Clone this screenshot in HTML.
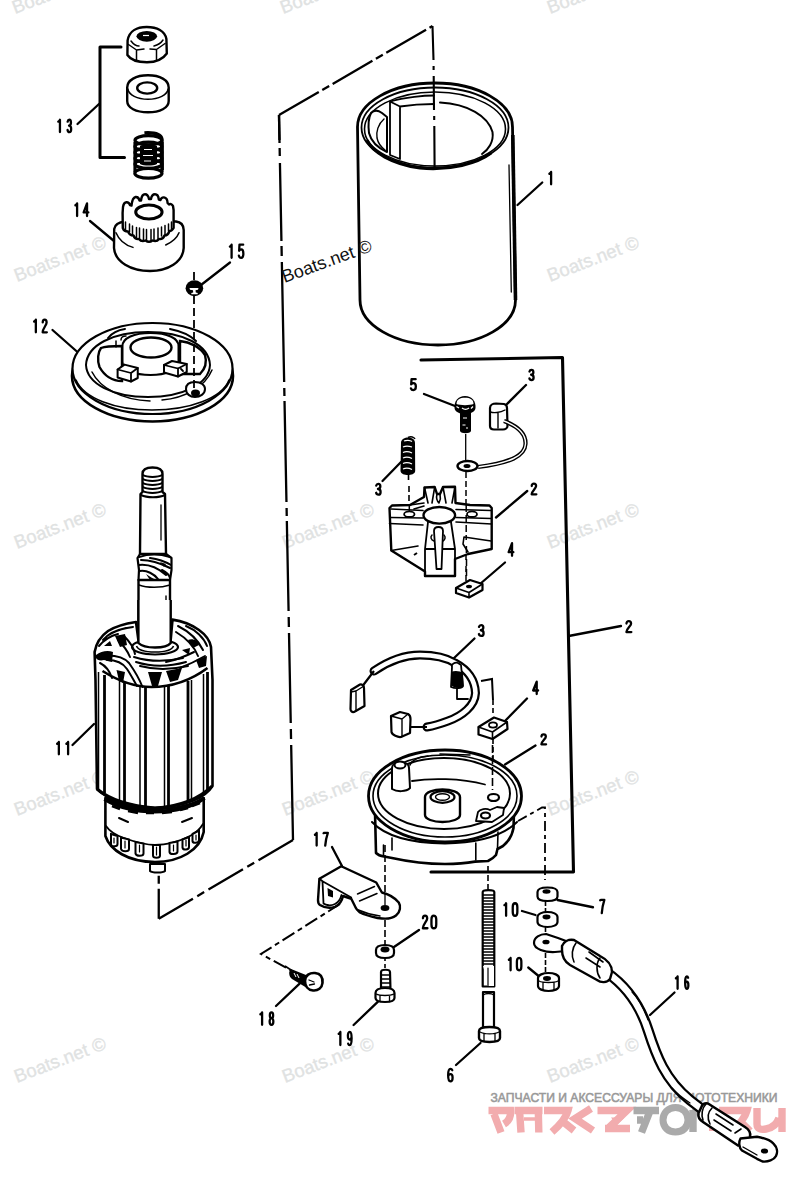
<!DOCTYPE html>
<html><head><meta charset="utf-8"><style>
html,body{margin:0;padding:0;background:#fff;width:800px;height:1184px;overflow:hidden}
svg{display:block}
.wm{font-family:"Liberation Sans",sans-serif;font-size:18.5px;fill:#e0e2e2;stroke:#e0e2e2;stroke-width:0.3}
.lb{font-family:"Liberation Sans",sans-serif;font-size:19.5px;font-weight:bold;fill:#000}
.s{fill:none;stroke:#000;stroke-width:2.4;stroke-linecap:round;stroke-linejoin:round}
.t{fill:none;stroke:#000;stroke-width:1.5;stroke-linecap:round;stroke-linejoin:round}
.d{fill:none;stroke:#000;stroke-width:2.3;stroke-dasharray:24 5 8 5}
.w{fill:#fff;stroke:#000;stroke-width:2.4;stroke-linejoin:round}
.k{fill:#000}
</style></head><body>
<svg width="800" height="1184" viewBox="0 0 800 1184">
<!-- watermarks -->
<g class="wm">
<text transform="translate(15,14) rotate(-21)">Boats.net ©</text>
<text transform="translate(283,14) rotate(-21)">Boats.net ©</text>
<text transform="translate(550,14) rotate(-21)">Boats.net ©</text>
<text transform="translate(17,282) rotate(-21)">Boats.net ©</text>
<text transform="translate(550,282) rotate(-21)">Boats.net ©</text>
<text transform="translate(17,549) rotate(-21)">Boats.net ©</text>
<text transform="translate(285,549) rotate(-21)">Boats.net ©</text>
<text transform="translate(550,549) rotate(-21)">Boats.net ©</text>
<text transform="translate(17,816) rotate(-21)">Boats.net ©</text>
<text transform="translate(285,816) rotate(-21)">Boats.net ©</text>
<text transform="translate(550,816) rotate(-21)">Boats.net ©</text>
<text transform="translate(17,1083) rotate(-21)">Boats.net ©</text>
<text transform="translate(285,1083) rotate(-21)">Boats.net ©</text>
<text transform="translate(550,1083) rotate(-21)">Boats.net ©</text>
</g>
<!-- labels -->
<g fill="none" stroke="#000" stroke-width="2.30" stroke-linecap="round" stroke-linejoin="round">
<path vector-effect="non-scaling-stroke" transform="matrix(1.000 0 0 1.012 57.35 118.84)" d="M0.9 2.7 L2.3 1.7 L2.6 0.9 V13.1"/>
<path vector-effect="non-scaling-stroke" transform="matrix(0.667 0 0 1.012 67.02 118.84)" d="M0.9 2.8 C1.3 1.4 2.2 0.9 3.4 0.9 C5 0.9 5.9 2 5.9 3.7 C5.9 5.6 4.9 6.6 3 6.7 C5.1 6.8 6.2 8.1 6.2 10 C6.2 12.1 5.1 13.1 3.5 13.1 C2.1 13.1 1.1 12.4 0.8 11"/>
<path vector-effect="non-scaling-stroke" transform="matrix(1.000 0 0 1.041 74.50 202.46)" d="M0.9 2.7 L2.3 1.7 L2.6 0.9 V13.1"/>
<path vector-effect="non-scaling-stroke" transform="matrix(0.825 0 0 1.041 82.99 202.46)" d="M4.9 13.1 V0.9 L0.8 9.6 H6.5"/>
<path vector-effect="non-scaling-stroke" transform="matrix(1.000 0 0 1.082 229.00 243.68)" d="M0.9 2.7 L2.3 1.7 L2.6 0.9 V13.1"/>
<path vector-effect="non-scaling-stroke" transform="matrix(0.840 0 0 1.082 238.23 243.68)" d="M5.9 0.9 H1.5 L1.1 6.6 C1.7 5.7 2.6 5.3 3.5 5.3 C5.2 5.3 6.1 6.8 6.1 9.2 C6.1 11.8 5 13.1 3.4 13.1 C2.1 13.1 1.2 12.4 0.8 11.1"/>
<path vector-effect="non-scaling-stroke" transform="matrix(1.000 0 0 1.041 33.25 318.71)" d="M0.9 2.7 L2.3 1.7 L2.6 0.9 V13.1"/>
<path vector-effect="non-scaling-stroke" transform="matrix(0.778 0 0 1.041 41.95 318.71)" d="M1 3.6 C1 1.8 2 0.9 3.5 0.9 C5.1 0.9 6 2 6 3.7 C6 6.3 1 9.2 0.9 13.1 H6.3"/>
<path vector-effect="non-scaling-stroke" transform="matrix(1.000 0 0 1.020 56.25 740.98)" d="M0.9 2.7 L2.3 1.7 L2.6 0.9 V13.1"/>
<path vector-effect="non-scaling-stroke" transform="matrix(1.000 0 0 1.020 65.50 740.98)" d="M0.9 2.7 L2.3 1.7 L2.6 0.9 V13.1"/>
<path vector-effect="non-scaling-stroke" transform="matrix(1.000 0 0 1.020 548.50 170.98)" d="M0.9 2.7 L2.3 1.7 L2.6 0.9 V13.1"/>
<path vector-effect="non-scaling-stroke" transform="matrix(0.934 0 0 0.898 410.15 378.34)" d="M5.9 0.9 H1.5 L1.1 6.6 C1.7 5.7 2.6 5.3 3.5 5.3 C5.2 5.3 6.1 6.8 6.1 9.2 C6.1 11.8 5 13.1 3.4 13.1 C2.1 13.1 1.2 12.4 0.8 11.1"/>
<path vector-effect="non-scaling-stroke" transform="matrix(0.778 0 0 0.836 528.78 369.15)" d="M0.9 2.8 C1.3 1.4 2.2 0.9 3.4 0.9 C5 0.9 5.9 2 5.9 3.7 C5.9 5.6 4.9 6.6 3 6.7 C5.1 6.8 6.2 8.1 6.2 10 C6.2 12.1 5.1 13.1 3.5 13.1 C2.1 13.1 1.1 12.4 0.8 11"/>
<path vector-effect="non-scaling-stroke" transform="matrix(0.824 0 0 0.877 375.49 483.11)" d="M0.9 2.8 C1.3 1.4 2.2 0.9 3.4 0.9 C5 0.9 5.9 2 5.9 3.7 C5.9 5.6 4.9 6.6 3 6.7 C5.1 6.8 6.2 8.1 6.2 10 C6.2 12.1 5.1 13.1 3.5 13.1 C2.1 13.1 1.1 12.4 0.8 11"/>
<path vector-effect="non-scaling-stroke" transform="matrix(0.870 0 0 0.877 530.87 482.86)" d="M1 3.6 C1 1.8 2 0.9 3.5 0.9 C5.1 0.9 6 2 6 3.7 C6 6.3 1 9.2 0.9 13.1 H6.3"/>
<path vector-effect="non-scaling-stroke" transform="matrix(0.825 0 0 1.041 507.99 542.21)" d="M4.9 13.1 V0.9 L0.8 9.6 H6.5"/>
<path vector-effect="non-scaling-stroke" transform="matrix(0.917 0 0 0.898 625.57 620.34)" d="M1 3.6 C1 1.8 2 0.9 3.5 0.9 C5.1 0.9 6 2 6 3.7 C6 6.3 1 9.2 0.9 13.1 H6.3"/>
<path vector-effect="non-scaling-stroke" transform="matrix(0.870 0 0 0.877 478.20 624.36)" d="M0.9 2.8 C1.3 1.4 2.2 0.9 3.4 0.9 C5 0.9 5.9 2 5.9 3.7 C5.9 5.6 4.9 6.6 3 6.7 C5.1 6.8 6.2 8.1 6.2 10 C6.2 12.1 5.1 13.1 3.5 13.1 C2.1 13.1 1.1 12.4 0.8 11"/>
<path vector-effect="non-scaling-stroke" transform="matrix(0.868 0 0 1.020 532.46 680.73)" d="M4.9 13.1 V0.9 L0.8 9.6 H6.5"/>
<path vector-effect="non-scaling-stroke" transform="matrix(0.870 0 0 0.816 540.62 733.67)" d="M1 3.6 C1 1.8 2 0.9 3.5 0.9 C5.1 0.9 6 2 6 3.7 C6 6.3 1 9.2 0.9 13.1 H6.3"/>
<path vector-effect="non-scaling-stroke" transform="matrix(1.000 0 0 1.041 314.05 831.91)" d="M0.9 2.7 L2.3 1.7 L2.6 0.9 V13.1"/>
<path vector-effect="non-scaling-stroke" transform="matrix(0.796 0 0 1.041 322.91 831.91)" d="M0.8 1.2 L1.6 0.9 H6.2 C4.6 4.5 3.4 8.6 2.9 13.1"/>
<path vector-effect="non-scaling-stroke" transform="matrix(0.852 0 0 1.041 422.08 914.61)" d="M1 3.6 C1 1.8 2 0.9 3.5 0.9 C5.1 0.9 6 2 6 3.7 C6 6.3 1 9.2 0.9 13.1 H6.3"/>
<path vector-effect="non-scaling-stroke" transform="matrix(0.923 0 0 1.041 430.62 914.61)" d="M3.5 0.9 C1.5 0.9 0.9 2.6 0.9 4.6 V9.4 C0.9 11.4 1.5 13.1 3.5 13.1 C5.5 13.1 6.1 11.4 6.1 9.4 V4.6 C6.1 2.6 5.5 0.9 3.5 0.9 Z"/>
<path vector-effect="non-scaling-stroke" transform="matrix(0.778 0 0 1.082 599.53 898.93)" d="M0.8 1.2 L1.6 0.9 H6.2 C4.6 4.5 3.4 8.6 2.9 13.1"/>
<path vector-effect="non-scaling-stroke" transform="matrix(1.000 0 0 1.033 503.50 902.32)" d="M0.9 2.7 L2.3 1.7 L2.6 0.9 V13.1"/>
<path vector-effect="non-scaling-stroke" transform="matrix(0.885 0 0 1.033 511.95 902.32)" d="M3.5 0.9 C1.5 0.9 0.9 2.6 0.9 4.6 V9.4 C0.9 11.4 1.5 13.1 3.5 13.1 C5.5 13.1 6.1 11.4 6.1 9.4 V4.6 C6.1 2.6 5.5 0.9 3.5 0.9 Z"/>
<path vector-effect="non-scaling-stroke" transform="matrix(1.000 0 0 1.020 508.00 956.98)" d="M0.9 2.7 L2.3 1.7 L2.6 0.9 V13.1"/>
<path vector-effect="non-scaling-stroke" transform="matrix(0.856 0 0 1.020 516.13 956.98)" d="M3.5 0.9 C1.5 0.9 0.9 2.6 0.9 4.6 V9.4 C0.9 11.4 1.5 13.1 3.5 13.1 C5.5 13.1 6.1 11.4 6.1 9.4 V4.6 C6.1 2.6 5.5 0.9 3.5 0.9 Z"/>
<path vector-effect="non-scaling-stroke" transform="matrix(1.000 0 0 1.020 259.50 1011.48)" d="M0.9 2.7 L2.3 1.7 L2.6 0.9 V13.1"/>
<path vector-effect="non-scaling-stroke" transform="matrix(0.685 0 0 1.020 269.10 1011.48)" d="M3.5 6.6 C1.9 6.6 1.1 5.5 1.1 3.8 C1.1 2 2 0.9 3.5 0.9 C5 0.9 5.9 2 5.9 3.8 C5.9 5.5 5.1 6.6 3.5 6.6 C1.7 6.6 0.8 8 0.8 9.9 C0.8 12 1.8 13.1 3.5 13.1 C5.2 13.1 6.2 12 6.2 9.9 C6.2 8 5.3 6.6 3.5 6.6 Z"/>
<path vector-effect="non-scaling-stroke" transform="matrix(1.000 0 0 1.082 337.75 1030.93)" d="M0.9 2.7 L2.3 1.7 L2.6 0.9 V13.1"/>
<path vector-effect="non-scaling-stroke" transform="matrix(0.698 0 0 1.082 347.34 1030.93)" d="M1.2 11.8 C1.6 12.7 2.4 13.1 3.4 13.1 C5.2 13.1 6.1 10.9 6.1 6.8 C6.1 2.8 5.1 0.9 3.4 0.9 C1.8 0.9 0.8 2.3 0.8 4.5 C0.8 6.6 1.8 7.9 3.3 7.9 C4.6 7.9 5.6 7.1 6 5.9"/>
<path vector-effect="non-scaling-stroke" transform="matrix(0.840 0 0 1.020 447.39 1067.98)" d="M5.8 2.2 C5.4 1.3 4.6 0.9 3.6 0.9 C1.8 0.9 0.9 3.1 0.9 7.2 C0.9 11.2 1.9 13.1 3.6 13.1 C5.2 13.1 6.2 11.7 6.2 9.5 C6.2 7.4 5.2 6.1 3.7 6.1 C2.4 6.1 1.4 6.9 1 8.1"/>
<path vector-effect="non-scaling-stroke" transform="matrix(1.000 0 0 1.020 675.00 975.48)" d="M0.9 2.7 L2.3 1.7 L2.6 0.9 V13.1"/>
<path vector-effect="non-scaling-stroke" transform="matrix(0.604 0 0 1.020 684.61 975.48)" d="M5.8 2.2 C5.4 1.3 4.6 0.9 3.6 0.9 C1.8 0.9 0.9 3.1 0.9 7.2 C0.9 11.2 1.9 13.1 3.6 13.1 C5.2 13.1 6.2 11.7 6.2 9.5 C6.2 7.4 5.2 6.1 3.7 6.1 C2.4 6.1 1.4 6.9 1 8.1"/>
</g>
<!-- leader lines -->
<g class="s" style="stroke-width:2.3">
<path d="M77.5 124 L99 104"/>
<path d="M90 221 L114 241"/>
<path d="M230 262.5 L201 285"/>
<path d="M52.5 330 L78 352.5"/>
<path d="M72.5 745 L94 724"/>
<path d="M542.25 182.5 L517.5 205"/>
<path d="M424 394 L455 406"/>
<path d="M526 385 L505 406"/>
<path d="M382.5 481 L401 462"/>
<path d="M527.25 491 L496 517.5"/>
<path d="M505 562.5 L480 584"/>
<path d="M570 635.75 L621 626"/>
<path d="M474.5 638.5 L452.5 659.5"/>
<path d="M527 698.5 L503.5 722.5"/>
<path d="M535.5 745.5 L505 764.5"/>
<path d="M332 847 L342 866"/>
<path d="M419 930 L391 949"/>
<path d="M593 907.25 L557.5 900"/>
<path d="M522 911 L535.5 915"/>
<path d="M528.25 967.5 L538 975.5"/>
<path d="M276 1006 L299.6 983.6"/>
<path d="M353.6 1025 L378 1001.6"/>
<path d="M456 1065 L480.5 1043"/>
<path d="M674.5 992.5 L650 1015"/>
</g>
<!-- bracket 13 -->
<path class="s" d="M121 47 H100 V157.5 H124.5" style="stroke-width:3"/>
<!-- bracket 2 -->
<path class="s" d="M421 360 L562.5 357.5 L573.5 872 L431 872" style="stroke-width:3.1"/>
<!-- main phantom lines -->
<g fill="none" stroke="#000" stroke-width="2.3">

<path d="M279 115 L432.5 26" stroke-dasharray="46 4 8 4"/>
<path d="M279.00 115 L279.54 143 M279.64 148 L279.79 156 M279.93 163 L281.43 241 M281.53 246 L281.72 256 M281.84 262 L284.16 382 M284.27 388 L284.43 396 M284.52 401 L286.47 502 M286.59 508 L286.74 516 M286.84 521 L288.58 611 M288.69 617 L288.89 627 M289.00 633 L290.74 723 M290.86 729 L291.05 739 M291.17 745 L293.00 840"/>
<path d="M293 840 L158.75 918.75" stroke-dasharray="40 5 8 5"/>
<path d="M158.75 918.75 V872" stroke-dasharray="30 5 8 5"/>
<path d="M279 115 L279.5 140" />
</g>


<!-- PART 1: field frame cylinder -->
<g>
<path class="w" d="M357.5 127 C357.5 102.7 392 83 435 83 C478 83 512.5 102.7 512.5 127 L515.5 300 C515.5 325 481 345 438 345 C395 345 360 325 360 300 Z" style="stroke-width:2.8"/>
<ellipse cx="435" cy="127.5" rx="73.5" ry="40" fill="none" stroke="#000" stroke-width="1.8"/>
<ellipse cx="435" cy="129" rx="70.5" ry="37" fill="none" stroke="#000" stroke-width="1.6"/>
<path d="M367 140 C372 152 392 164 420 168 C450 171 478 163 491 153" fill="none" stroke="#000" stroke-width="3.2"/>
<path class="t" d="M440 102.5 C468 104 488 116 492.5 132 C494 142 488 150 482 154" style="stroke-width:2"/>
<path class="t" d="M390 101.5 L400 106.5 L400 159 L390 155 Z M390 101.5 C405 97 425 95.5 434 95.5 M400 106.5 C413 104.5 425 104 434 104" style="stroke-width:1.8"/>
<path class="t" d="M371 113 C374 110 378 110 382 113 L387 117 L387 152 C378 148 371 141 369 133 C368 125 369 117 371 113 Z" style="stroke-width:2"/>
<path class="t" d="M384 119 C378 124 376 132 377 138 C378 143 381 147 385 150" style="stroke-width:1.4"/>
<path class="t" d="M509 165 L511.3 292" style="stroke-width:1.3"/>
<path d="M512.8 135 L515.5 300" stroke="#000" stroke-width="3.6" fill="none"/>
</g>
<path d="M432.5 26 L433.5 60 M433.6 66 V70 M433.7 76 L434 110 M434.2 116 V120 M434.3 126 L434.6 169" fill="none" stroke="#000" stroke-width="2.1"/>
<!-- PART 11: armature -->
<g>
<!-- shaft -->
<path class="w" d="M142.5 474 C142.5 469 147 467.5 152.5 467.5 C158 467.5 162.5 469 162.5 474 L162.5 492 L165 494 L166 554 L140 554 L140.5 494 L142.5 492 Z" style="stroke-width:2.4"/>
<path class="t" d="M143 475 C147 477.5 158 477.5 162 475 M143 479 C147 481.5 158 481.5 162 479 M143 483 C147 485.5 158 485.5 162 483 M143 487 C147 489.5 158 489.5 162 487 M143 491 C147 493.5 158 493.5 162 491 M141 495 C147 498 159 498 165 495" style="stroke-width:2"/>
<path class="t" d="M161 505 V540" style="stroke-width:1.3"/>
<path class="w" d="M140 554 L137.5 558 L139 570 L138.5 580 L170 580 L171.5 570 L171.5 558 L166 554 Z" style="stroke-width:2.2"/>
<path class="t" d="M139 557 C148 554 160 554 170 557 M141 560 C150 560 160 563 170 568 M139 565 C148 564 158 568 166 575 M140 571 C147 570 154 574 158 579 M150 558 C158 559 166 562 171 565 M162 570 C166 572 169 574 170 578" style="stroke-width:2"/><path d="M146 574 C150 577 154 579 156 580 L150 580 Z M160 562 l6 2 l-2 3 Z" fill="#000"/>
<path class="w" d="M138.5 580 L138.5 646 L170 646 L170 580 Z" style="stroke-width:2.4"/>
<path class="t" d="M139 585 C147 588 161 588 170 585 M166 596 V640" style="stroke-width:1.4"/>
<!-- dome -->
<path class="w" d="M94.6 652 C96 644 101 636 108 631 C116 626 126 623.5 136 622 L138.4 640 L170.7 640 L172.5 619.6 C182 621 192 625 199 630 C206 635 210 641 211 647 L212.5 680 L212.5 786 C205 798 185 806 155 808 C125 806 105 798 97 789 L95.5 680 Z" style="stroke-width:2.6"/>
<ellipse cx="155" cy="647" rx="23" ry="7.5" fill="#fff" stroke="#000" stroke-width="2.2"/>
<path d="M136.5 646 C138 650 146 652 155 652 C164 652 172 650 173.5 646" fill="none" stroke="#000" stroke-width="1.6"/>
<path class="w" d="M138.4 600 L138.4 643 C142 646.5 150 647.5 155 647.5 C161 647.5 168 646.5 170.7 643 L170.7 600" style="stroke-width:2.4;stroke-linejoin:miter"/>
<path d="M102.5 671 C120 682 135 687 151.5 687 C170 687 190 681 207.5 668" fill="none" stroke="#000" stroke-width="2.6"/>
<g fill="none" stroke="#000" stroke-width="2" stroke-linecap="round">
<path d="M99 646 C104 640 110 636 118 634 M103 640 C108 634 116 630 126 628 M112 633 C118 630 126 628 133 627"/>
<path d="M104 655.5 C114 655 124 657 129 663 C134 670 139 678 142.5 687 M107 660 C116 660 123 663 127 669 C131 675 134 681 137 686"/>
<path d="M100 663 C106 666 110 672 112 678"/>
<path d="M134 657 C150 662 166 662 183 658 M136 662 C152 667 168 667 186 662 M140 666 C155 670 170 670 188 666"/>
<path d="M178 626 C190 632 198 640 203 650 M176 632 C186 638 194 646 198 656 M186 626 C196 630 204 638 207 646"/>
<path d="M166 662 C176 660 186 656 194 652 M180 668 C190 664 198 660 205 656"/>
<path d="M118 640 C124 646 128 652 130 657 M124 636 C130 642 134 648 135 654"/>
</g>
<path d="M96 655 C101 651 108 650 113 652 L112 662 L104 660 C100 661 97 660 96 658 Z
M115 636 L125 634 L127 645 L120 647 Z
M116.5 670 L125 672 L123 683 L119 681 Z
M148 672 L162 672 L158 686 L152 686 Z
M166 671 L182 668 L178 680 L170 682 Z
M188 640 C192 638 198 640 199 645 L193 648 Z
M196 660 L207 656 L206 666 L199 668 Z
M104 646 L110 641 L112 646 Z
M182 650 L190 648 L189 655 Z" fill="#000"/>
<!-- slots -->
<g fill="none" stroke="#000">
<path d="M98.5 672 V790 M119.5 680 V801 M140 686 V806 M164.5 686 V807 M191.5 680 V800 M203.5 674 V792" stroke-width="1.5"/>
<path d="M104.5 675 V793 M124.5 682 V802 M145.5 687 V807.5 M168.5 686 V807 M188 681 V801 M207.5 672 V790" stroke-width="2.8"/>
</g>
<path d="M97 789 C108 798 128 806 155 808 C182 806 200 798 212 786" fill="none" stroke="#000" stroke-width="3"/>
<!-- commutator -->
<path class="w" d="M105.4 798 C120 805 135 809 155 809 C175 809 192 805 203.7 798 L203.7 832 C200 850 180 862 155 862 C128 862 110 850 105.4 836 Z" style="stroke-width:2.6"/>
<path d="M104.5 799 C118 807 136 811.5 155 811.5 C175 811.5 192 807 204.5 798" fill="none" stroke="#000" stroke-width="4"/>
<path d="M112 806 l8 3 M128 811 l10 2 M146 813 l8 0 M162 813 l10 -1 M180 810 l8 -2 M192 806 l8 -3" stroke="#000" stroke-width="2.5"/>
<path class="t" d="M119 818 l9 4 M182 822 l10 -4" style="stroke-width:2"/>
<path class="t" d="M106 826 C110 832 118 836 124 838 C135 842 145 845 155 845 C167 845 180 841 190 836 C196 833 200 829 203 824" style="stroke-width:1.8"/>
<g fill="#fff" stroke="#000" stroke-width="2">
<path d="M111 834 L117.5 836 L117.5 844 C117.5 847 112 847 111 844.5 Z"/>
<path d="M121 837.5 L129 839.5 L129 849 C129 852 122 852 121 849 Z"/>
<path d="M135.5 842 L143.5 843.5 L143.5 853.5 C143.5 856.5 136 856.5 135.5 853.5 Z"/>
<path d="M153 845 L160 845 L160 855.5 C160 858.5 153 858.5 153 855.5 Z"/>
<path d="M169.5 843 L177.5 841.5 L177.5 851.5 C177.5 854.5 170 855 169.5 852 Z"/>
<path d="M182.5 839.5 L189 837 L189 847 C189 850 183 850.5 182.5 847.5 Z"/>
<path d="M192.5 834 L199 830.5 L199 840 C199 843 193 844 192.5 841 Z"/>
</g>
<path class="t" d="M114 838 V843 M125 841 V848 M139.5 845 V852 M156.5 847 V855 M173.5 845 V851 M186 840 V846 M196 835 V840" style="stroke-width:1.2"/>
<path class="w" d="M150 864 L150 871 C152 873 163 873 165 871 L165 864 Z" style="stroke-width:2"/>
</g>
<!-- screw 5 -->
<g>
<path d="M460 412 L471 412 L471 431 C470 434 461 434 460 431 Z" fill="#000"/>
<path d="M463 418 h4 M462.5 425 h3 M466 428 h2" stroke="#fff" stroke-width="1"/>
<path d="M454.5 408 C454 401 458 396 465 396 C472 396 476 401 475.5 408 C475 412 470 414 465 414 C460 414 455 412 454.5 408 Z" fill="#000"/>
<path d="M456.5 404 C456.5 399.5 460 397.8 465 397.8 C470 397.8 473.5 399.5 473.5 404 C470 405.5 460 405.5 456.5 404 Z" fill="#fff"/>
<path d="M456.5 406.5 L459 408 M473 406.5 L471 408.5 M462 408 C464 409.5 467 409.5 469 408" stroke="#fff" stroke-width="1.3" fill="none"/>
</g>
<path d="M465.7 434 V461" stroke="#000" stroke-width="1.3" fill="none"/>
<path d="M466 472 V520 M466 527 V560 M466 566 V585" stroke="#000" stroke-width="1.5" stroke-dasharray="6 3" fill="none"/>
<!-- brush 3 with wire -->
<g>
<path class="w" d="M490 408 C490 405 493 403.5 496 403.5 L504 404 C506 404.5 507 406 507 408 L507.5 426 C507.5 428 505.5 429.5 503 429.5 L494 429.5 C491.5 429.5 490 428 490 426 Z" style="stroke-width:2.2"/>
<path class="t" d="M490.5 412 C493 413 500 413 505 410 M498 413 V428" style="stroke-width:1.4"/>
<path d="M504 421 C517 426 526 434 525.5 444 C525 456 510 463 478 467" fill="none" stroke="#000" stroke-width="4.2"/>
<path d="M504 421 C517 426 526 434 525.5 444 C525 456 510 463 478 467" fill="none" stroke="#fff" stroke-width="1.4"/>
<ellipse cx="467.5" cy="466" rx="10" ry="5" fill="#fff" stroke="#000" stroke-width="2.4"/>
<ellipse cx="467" cy="466" rx="3.5" ry="2" fill="#000"/>
</g>
<!-- spring 3 left -->
<g>
<path d="M401 443 C401 439 405 437.5 408 437.5 C411.5 437.5 415 439 415 443 L415.2 471 C415 474 411 475 408 475 C404.5 475 401 474 400.5 471 Z" fill="#000"/>
<path d="M404 441 C406 440 410 440 412 441.5 M403 447 C405 446 409 446 412 447 M403 452.5 C405 451.5 409 451.5 412 453 M403 458 C405 457 409 457 412 458.5 M403 463.5 C405 462.5 409 462.5 412 464 M403 469 C405 468 409 468 412 469.5" stroke="#fff" stroke-width="1.2" fill="none"/>
<path d="M408 437.5 C411 436 414 437 415 439" stroke="#000" stroke-width="1.5" fill="none"/>
</g>
<path d="M408.5 475 V480 M409 486 V505 M409 512 V520" stroke="#000" stroke-width="1.6" stroke-dasharray="6 3" fill="none"/>
<!-- brush holder 2 -->
<g>
<path class="w" d="M389.5 508 L392 505.5 L410 505 L424 497 L424.5 487.5 L434.7 487 L437 494 L440 494 L443 487 L455 486.8 L455.5 503 L470 505 L489.5 505.5 L491.7 508 L491.7 549 L468 554 L455 559 L455 576 L425 576 L425 571.5 L391.3 550.5 Z" style="stroke-width:2.4"/>
<path class="t" d="M389.5 523.5 L423 525 M456 522 L491.5 524 M391 509 L423 510.5 M456 509.5 L491 510.5 M391 517.5 L423 518 M456 517.5 L491 518.5" style="stroke-width:1.6"/>
<path class="t" d="M410 505 L424 503 M414 509 L424 506 M424.5 487.5 L428 503 M434.7 487 L432 503 M443 487 L446 503 M455 486.8 L452 503 M437 494 C436 498 437 501 439 503 M440 494 C441 498 440 501 439 503" style="stroke-width:1.6"/>
<ellipse cx="439.3" cy="515.3" rx="15.8" ry="8.3" fill="#fff" stroke="#000" stroke-width="2.4"/>
<ellipse cx="409.3" cy="514.2" rx="5.2" ry="2.8" fill="#fff" stroke="#000" stroke-width="1.8"/>
<ellipse cx="472" cy="514.2" rx="5" ry="2.8" fill="#fff" stroke="#000" stroke-width="1.8"/>
<path class="t" d="M428 522 L425 549 L425 576 M451 522 L455 549 L455 559 M425 549 L455 549" style="stroke-width:1.8"/>
<path class="w" d="M434 531 C434 528 436 527 438.5 527 C441 527 443 528 443 531 L441.5 569 L436.5 569 Z" style="stroke-width:1.8"/>
<path class="t" d="M432 535 C430 537 431 540 434 541 M444 535 C446 537 445 540 443 541" style="stroke-width:1.5"/>
<path class="t" d="M464 537 L491 541 M464 537 L463 544 L468 552 M391.3 550.5 L418 546" style="stroke-width:1.6"/>
<path d="M414 555 l3 -2" stroke="#000" stroke-width="2"/>
</g>
<path d="M466.2 505 V540 M466.4 546 V553 M466.5 559 V578" stroke="#000" stroke-width="1.5" stroke-dasharray="7 3" fill="none"/>
<path d="M409.3 505 V512" stroke="#000" stroke-width="1.5" fill="none"/>
<!-- square nut 4 -->
<g>
<path class="w" d="M456 588 L470 580 L482.5 584 L482.5 590 L469 597.5 L456 593 Z" style="stroke-width:2.2"/>
<path class="t" d="M456 588 L469 592.5 L482.5 584 M469 592.5 V597.5" style="stroke-width:1.6"/>
<ellipse cx="469" cy="586.5" rx="3" ry="1.8" fill="#000"/>
</g>
<!-- brush ring 3 -->
<g>
<path d="M374 671 C390 660 405 655 420 655 C435 655 447 658 455 663 C468 670 475 680 475.5 693 C475 706 462 716 448 721 C440 724 433 726 427 727" fill="none" stroke="#000" stroke-width="9" stroke-linecap="round"/>
<path d="M374 671 C390 660 405 655 420 655 C435 655 447 658 455 663 C468 670 475 680 475.5 693 C475 706 462 716 448 721 C440 724 433 726 427 727" fill="none" stroke="#fff" stroke-width="4.6" stroke-linecap="round"/>
<path d="M361 688 L374 671 M409 727 L427 727" fill="none" stroke="#000" stroke-width="2.2"/>
<path class="w" d="M351 690 L360 684.5 C362 684 364 686 364 688 L364.5 706 L354 712 C352 712.5 350.5 711 350.5 709 Z" style="stroke-width:2.2"/>
<path class="t" d="M351 692 L356 691 L364 686 M356 691 V711" style="stroke-width:1.4"/>
<path class="w" d="M391 716 L400 712 L408 714 C410 715 410.5 717 410.5 719 L410 733 L401 737 C398 737.5 392 735 391.5 732 Z" style="stroke-width:2.2"/>
<path class="t" d="M391 716 L402 719 L408 714 M402 719 V736" style="stroke-width:1.4"/>
<path class="w" d="M452 667 C451 664 455 662 458 663 L461 665 L463 686 C462 688 456 689 451 687 Z" style="stroke-width:1.8"/>
<path d="M451 672 C455 670 460 671 463 673 L463.5 686 C460 688 455 688 452 686 Z" fill="#000"/>
<path class="t" d="M457 688 V699 L468 699" style="stroke-width:1.8"/>
</g>
<!-- bracket 7 shape -->
<path d="M481 681 L492 679 L493 700" fill="none" stroke="#000" stroke-width="2"/>
<path d="M493 700 V716" stroke="#000" stroke-width="1.6" stroke-dasharray="5 3" fill="none"/>
<!-- square nut 4 second -->
<g>
<path class="w" d="M478.5 727 L494 717.5 L507 722 L507.5 729 L492.5 739 L478.5 734.5 Z" style="stroke-width:2.2"/>
<path class="t" d="M478.5 727 L492.5 732 L507 722 M492.5 732 V739" style="stroke-width:1.6"/>
<ellipse cx="493" cy="725" rx="4" ry="2.6" fill="#fff" stroke="#000" stroke-width="1.8"/>
</g>
<path d="M493 739 V760" stroke="#000" stroke-width="1.6" stroke-dasharray="5 3" fill="none"/>
<!-- end frame 2 -->
<g>
<path class="w" d="M375 812 L376 853 C378 855 381 856 384 856.5 L392 858 C410 862 428 864 445 864 C460 864 470 862.5 475 861.6 L488 861 C491 859.5 494 857.5 496 855 L497.5 849 L503 846 C508 842 512 836 513.5 828 L514 812 Z" style="stroke-width:2.6"/>
<ellipse cx="445" cy="796" rx="76.5" ry="46" fill="#fff" stroke="#000" stroke-width="2.8"/>
<ellipse cx="445" cy="796" rx="72" ry="41" fill="none" stroke="#000" stroke-width="1.6"/>
<ellipse cx="444" cy="793.5" rx="66" ry="35.5" fill="none" stroke="#000" stroke-width="2"/>
<path class="t" d="M372 822 C385 836 412 843 445 843.5 C478 843 503 836 517 822" style="stroke-width:2"/>
<path class="t" d="M392 838 V850 M475.8 843 V860 M497.5 849 L498 832 M383.5 845 V856" style="stroke-width:1.6"/>
<path class="t" d="M412 781 C430 778 460 778 485 784.5" style="stroke-width:1.8"/>
<path class="t" d="M410 765 C412 760 418 757 428 756 M440 754 L470 755" style="stroke-width:1.6"/>
<!-- left post -->
<path class="w" d="M392 768 C392 764 396 762 400 762 C405 762 409 764 409 768 L410 788 C406 792 397 792 392 789 Z" style="stroke-width:2"/>
<ellipse cx="400" cy="765" rx="5.5" ry="3.5" fill="#fff" stroke="#000" stroke-width="2"/>
<!-- hub -->
<path class="w" d="M425 797 C425 792 434 789.5 442.5 789.5 C451 789.5 460 792 460 797 L460 815 C460 819 452 822 442.5 822 C433 822 425 819 425 815 Z" style="stroke-width:2.4"/>
<ellipse cx="442.5" cy="797" rx="12" ry="5.8" fill="#fff" stroke="#000" stroke-width="2.2"/>
<ellipse cx="442.5" cy="797" rx="7" ry="3.2" fill="none" stroke="#000" stroke-width="1.4"/>
<!-- right bosses -->
<ellipse cx="493.5" cy="797.5" rx="5.5" ry="3.5" fill="#fff" stroke="#000" stroke-width="2.2"/>
<path class="w" d="M476 821 L478 812 C480 809 486 808 490 810 L497 807 L504 808 L503 815 L492 822 Z" style="stroke-width:1.8"/>
<ellipse cx="485.5" cy="815.5" rx="4.5" ry="3" fill="#fff" stroke="#000" stroke-width="2.2"/>
</g>
<path d="M492.5 745 V790" stroke="#000" stroke-width="1.6" stroke-dasharray="8 3" fill="none"/>
<path d="M518 821 L542 807.5 L545 807.5 V880" stroke="#000" stroke-width="1.8" stroke-dasharray="10 4 4 4" fill="none"/>
<path d="M488 866 V890" stroke="#000" stroke-width="1.6" stroke-dasharray="6 3" fill="none"/>
<!-- bracket 17 -->
<g>
<path class="w" d="M319.4 878.75 L341.25 866.25 L376.25 882.5 L381.9 892.5 C388 894 395 898 398.75 902.5 C401 906 400.5 912 396 915.5 C392 918.5 387 919 382 918.5 L377.5 918 C371 916.5 364 914.5 360 912.5 C357 910 355.5 908 355 906.25 L351.25 898.75 L343 896 C342 901 339 905 335 906.8 C330 908.5 324 907.5 320 905 C318.5 904 318 902 318 900 Z" style="stroke-width:2.4"/>
<path class="t" d="M319.4 878.75 L322.5 881.25 L351.25 897.5 M322.5 881.25 L323.5 903.5 C326 905.5 331 906 335 904 C338 902.5 340.5 899 341.5 895" style="stroke-width:1.8"/>
<path d="M327.5 888 L333 891 L333 897.5 L328 896 Z" fill="#000"/>
<path class="t" d="M357.5 894 L374.5 886.5 M359.5 901 L377 893.5 M357 909.5 C365 913 372 915 380 916" style="stroke-width:1.5"/>
<ellipse cx="385" cy="908" rx="4.4" ry="3" fill="#000"/>
</g>
<path d="M385 845 V893 M385 920 V945" stroke="#000" stroke-width="1.6" stroke-dasharray="7 3" fill="none"/><path d="M385 893 V905" stroke="#000" stroke-width="1.3"/>
<path d="M385 957 V968" stroke="#000" stroke-width="1.6" stroke-dasharray="4 3" fill="none"/>
<!-- phantom 18 -->
<path d="M340 904 L261 954 L294 972" stroke="#000" stroke-width="2" stroke-dasharray="14 4 5 4" fill="none"/>
<!-- washer 20 -->
<g>
<path class="w" d="M376 950 C376 946.5 380 945 385 945 C390 945 394 946.5 394 950 L394 953 C394 956.5 390 958 385 958 C380 958 376 956.5 376 953 Z" style="stroke-width:2.2"/>
<ellipse cx="385" cy="949.5" rx="4.5" ry="3" fill="#000"/>
</g>
<!-- bolt 19 -->
<g>
<path class="w" d="M381 972 C381 969 390 969 390 972 L390.5 990 L381 990 Z" style="stroke-width:2.2"/>
<path d="M381 975 h9 M381 979 h9 M381 983 h9 M381 987 h9" stroke="#000" stroke-width="1.5"/>
<path class="w" d="M375.5 993 C375.5 989.5 380 988 385 988 C390 988 394.5 989.5 394.5 993 L394.5 998 C394.5 1001 390 1002 385 1002 C380 1002 375.5 1001 375.5 998 Z" style="stroke-width:2.2"/>
<path class="t" d="M376 994 C380 996 390 996 394 994 M380 995.5 V1001.5 M389.5 995.5 V1001.5" style="stroke-width:1.3"/>
</g>
<!-- screw 18 -->
<g>
<path d="M291 969 L306 975 L307 988 L292 979 C289 977 288 971 291 969 Z" fill="#000"/>
<path d="M294 973 l2 4 M297 974 l2 4" stroke="#fff" stroke-width="1"/>
<path d="M285 966 L291 970" stroke="#000" stroke-width="1.6"/>
<path class="w" d="M305 981 C305 975 310 972.5 315 973 C320 973.5 323 977 322.5 983 C322 988 318 991 313 990.5 C308 990 305 986 305 981 Z" style="stroke-width:2.6"/>
<path class="t" d="M309 980 l5 2 M309.5 985 l5 -1" style="stroke-width:1.3"/>
</g>
<!-- through bolt 6 -->
<g>
<path class="w" d="M482.7 892 C482.7 889.5 494.3 889.5 494.3 892 L494.3 986.5 L482.7 986.5 Z" style="stroke-width:2.2"/>
<path d="M483 895 h11 M483 898 h11 M483 901 h11 M483 904 h11 M483 907 h11 M483 910 h11 M483 913 h11 M483 916 h11 M483 919 h11 M483 922 h11 M483 925 h11 M483 928 h11 M483 931 h11 M483 934 h11 M483 937 h11 M483 940 h11 M483 943 h11 M483 946 h11 M483 949 h11 M483 952 h11 M483 955 h11 M483 958 h11 M483 961 h11 M483 964 h11" stroke="#000" stroke-width="1.3"/>
<path d="M483 966 L494 966 L494 986 L489 986 Z" fill="#fff"/>
<path class="t" d="M488 968 V985" style="stroke-width:1.2"/>
<path class="w" d="M483 992 L494 992 L494 1029 L483 1029 Z" style="stroke-width:2.2"/>
<path class="t" d="M483 995 C486 993 491 993 494 995" style="stroke-width:1.4"/>
<path class="w" d="M479 1031 C479 1028 484 1027 489.5 1027 C495 1027 500 1028 500 1031 L500 1038 C500 1041 495 1042 489.5 1042 C484 1042 479 1041 479 1038 Z" style="stroke-width:2.4"/>
<path class="t" d="M480 1032 C484 1034.5 495 1034.5 499 1032 M484 1034 V1041 M495 1034 V1041" style="stroke-width:1.3"/>
</g>
<!-- washer 7 -->
<g>
<path class="w" d="M537.5 892 C537.5 889 542 887.5 547.5 887.5 C553 887.5 557.5 889 557.5 892 L557.5 896.5 C557.5 899.5 553 901 547.5 901 C542 901 537.5 899.5 537.5 896.5 Z" style="stroke-width:2.2"/>
<ellipse cx="546.5" cy="891.5" rx="4" ry="2.2" fill="#000"/>
</g>
<!-- washer 10 upper -->
<g>
<path class="w" d="M537.5 917 C537.5 914 542 912 547.5 912 C553 912 557.5 914 557.5 917 L557.5 922 C557.5 925 553 927 547.5 927 C542 927 537.5 925 537.5 922 Z" style="stroke-width:2.2"/>
<ellipse cx="546.5" cy="917" rx="4" ry="2.4" fill="#000"/>
</g>
<path d="M545.5 901 V912 M545.5 927 V934 M545.5 953 V972" stroke="#000" stroke-width="1.6" stroke-dasharray="5 2" fill="none"/>
<!-- nut 10 lower -->
<g>
<path class="w" d="M538 978 C538 975 543 973 548.5 973 C554 973 559 975 559 978 L559 986 C559 989 554 991 548.5 991 C543 991 538 989 538 986 Z" style="stroke-width:2.2"/>
<ellipse cx="547" cy="978.5" rx="4" ry="2.4" fill="#000"/>
<path class="t" d="M539 981 C543 983 554 983 558 981 M543 983 V990 M554 983 V990" style="stroke-width:1.3"/>
</g>
<!-- logo -->
<g>
<text x="490.5" y="1102.2" textLength="287" lengthAdjust="spacingAndGlyphs" style="font-family:&quot;Liberation Sans&quot;,sans-serif;font-size:12.4px;fill:#999;stroke:#999;stroke-width:0.55">ЗАПЧАСТИ И АКСЕССУАРЫ ДЛЯ МОТОТЕХНИКИ</text>
<g fill="none" stroke-width="7.4" stroke-linejoin="miter" stroke-linecap="butt">
<g stroke="#f2acae">
<path d="M488.5 1110.5 H510.5 C511 1116 509 1121 504 1124 M494 1114 L501 1132.5"/>
<path d="M514.5 1110.5 H542.5 M519.5 1110 L521 1132.5 M538.3 1110 L538.8 1132.5"/>
<path d="M524 1119 H535" stroke-width="3.5"/>
<path d="M544 1110.5 H568 C566 1118 560 1125 552 1132 M561 1120 L574 1130.5"/>
<path d="M591 1108.5 L575 1118.5 L593 1130.5"/>
<path d="M597.5 1110.5 H627 L609 1127.5 M605 1128.5 H630"/>
<path d="M614 1119 L621 1119 L617 1123 Z" stroke-width="3"/>
<path d="M709 1128 h6" stroke-width="6"/>
<path d="M719 1110.5 H747 C745 1118 739 1125 731 1132 M740 1121 L750 1131"/>
<path d="M757 1108 V1124 C757 1129 761 1130 766 1129 C772 1128 777 1124 779 1118 M782 1108 V1132"/>
</g>
<g stroke="#aaaaaa">
<path d="M633.5 1110.5 H659 M650 1111 L641.5 1132.5 M637 1120 h6"/>
<path d="M675.5 1107.5 C668 1107.5 663 1113 663 1120 C663 1127 668 1132 675.5 1132 C683 1132 688 1127 688 1120 C688 1113 683 1107.5 675.5 1107.5 Z" stroke-width="7"/>
<path d="M693 1110 V1132 M693 1114 C696 1110 700 1109 705 1110"/>
</g>
</g>
</g>
<!-- cable 16 -->
<g>
<path d="M606 972 C625 985 640 1005 648 1030 C656 1055 665 1080 690 1100 L703 1110" fill="none" stroke="#000" stroke-width="11" stroke-linecap="round"/>
<path d="M606 972 C625 985 640 1005 648 1030 C656 1055 665 1080 690 1100 L703 1110" fill="none" stroke="#fff" stroke-width="6.5" stroke-linecap="round"/>
<path class="t" d="M632 992 C640 1000 645 1012 648 1020 M672 1088 C678 1095 684 1099 690 1103" style="stroke-width:1.2"/>
<!-- terminal ring upper -->
<path class="w" d="M534 943 C534 937.5 540 934 546 934 L558 938 L566 941 L566 951 L555 952 C545 952.5 534 949 534 943 Z" style="stroke-width:2.2"/>
<ellipse cx="546" cy="942" rx="3.6" ry="2.3" fill="#000"/>
<!-- boot upper -->
<path class="w" d="M562 946 C564 941 569 939 574 940 L600 956 C608 960 612 966 612 972 L610 979 C607 983 601 983 597 980 L570 965 C565 962 562 956 562 950 Z" style="stroke-width:2.4"/>
<path class="t" d="M576 943 C572 948 571 956 574 962 M589 952 L603 962 M586 958 L600 967 M600 958 C596 963 596 972 600 978" style="stroke-width:1.6"/>
<!-- boot lower -->
<path class="w" d="M701 1108 C702 1104 705 1102.5 708 1103.5 L745 1127 C749 1129.5 751 1133 750 1137 C748.5 1142 744 1146 738 1145.5 L703 1122 C699 1119.5 698 1116 698.5 1113 Z" style="stroke-width:2.6"/>
<path class="t" d="M706 1104 C702 1108 701 1115 703 1120 M712 1108 C708 1112 707 1118 710 1124 M716 1114 L733 1125 M714 1120 L731 1131 M735 1133 l6 -4" style="stroke-width:1.6"/>
<!-- terminal lower -->
<path class="w" d="M740.5 1138.5 L757 1136.8 C764 1138 770 1140 773.5 1143.6 C777 1147 778 1152 776 1156 C774 1160 768 1162 762.5 1161.5 L757 1158.8 L742 1150.5 C739 1148 738.5 1142 740.5 1138.5 Z" style="stroke-width:2.4"/>
<path class="t" d="M743 1147 L757 1155" style="stroke-width:1.4"/>
<ellipse cx="764.5" cy="1151" rx="3.6" ry="2.6" fill="#000"/>
</g>
<!-- PART 13: nut -->
<g>
<path class="w" d="M127.6 40.5 C129 31 137 27 146.7 27 C157 27 165 31 166.4 39 L166.8 53.5 C163 59 156 62.2 147 62.2 C137 62.2 130 59 127.4 55 Z"/>
<ellipse class="k" cx="146.8" cy="36.3" rx="10.3" ry="5.4"/>
<path d="M143 35.5 h6" stroke="#fff" stroke-width="1.2"/>
<path class="t" d="M128.5 44.5 L136.5 50 L144 49 M150 49 L156.5 49.5 L165 43.5 M136.5 50 V60 M156.5 49.5 V59.5 M131 41 C134 45 137 46 139 46 M154 46 C158 45 161 43 163 40"/>
</g>
<!-- washer 13 -->
<g>
<path class="w" d="M127.2 87.5 C127.2 80 136 75.3 148 75.3 C160 75.3 168.7 80 168.7 87.5 V101 C168.7 108 160 112.3 148 112.3 C136 112.3 127.2 108 127.2 101 Z"/>
<path class="t" d="M127.8 89 C129 95 137 99.3 148 99.3 C159 99.3 167 95 168.2 89"/>
<ellipse cx="147.2" cy="88" rx="10" ry="5.6" fill="none" stroke="#000" stroke-width="2.4"/>
</g>
<!-- spring 13 -->
<g fill="none" stroke="#000" stroke-width="3.2">
<path d="M144.4 132.8 C153 132.3 161 134 162 139 L162.3 170"/>
<ellipse cx="148.4" cy="140.3" rx="13.4" ry="4.6"/>
<ellipse cx="148.4" cy="146.5" rx="13.4" ry="4.3"/>
<ellipse cx="148.4" cy="152.4" rx="13.4" ry="4.3"/>
<ellipse cx="148.4" cy="158.2" rx="13.4" ry="4.3"/>
<ellipse cx="148.4" cy="164" rx="13.4" ry="4.3"/>
<ellipse cx="148.4" cy="173.3" rx="13.6" ry="4.9"/>
<path d="M135 142 V172 M162 142 V172"/>
</g>
<path d="M140 146 C144 144 153 144 157 146 L157 164 C153 166 144 166 140 164 Z" fill="#000"/>
<path d="M144 149.5 h8 M143 155.5 h10 M144 161 h7" stroke="#fff" stroke-width="1.2"/>
<!-- PART 14: pinion -->
<g>
<path class="w" d="M114.2 229 C115 224 120 222 125 221.5 L176 221.5 C181 222 183.5 225 183.7 230 L183.7 248 C183 262 168 271 150 271 C131 271 115 262 114 248 Z"/>
<path class="t" d="M116 232.7 C119 240 125 245 133 247.4 M165.7 245 C172 242 177 238 179 232.7"/>
<path class="w" d="M122.6 213 L123 207 C123.5 204 124.5 202.5 126.5 202.3 C128.5 202.2 129.5 203.5 130 205 L131.5 205.5 C132 201 133 197.5 135.5 197 C138 196.7 139 198.5 139.5 200.5 L141 200.5 C141.5 196.5 143 194.3 145 194.3 C147.5 194.3 148.5 196.5 149 199 L151 199 C151.5 196 153 194.3 155 194.3 C157.5 194.3 158.5 196.5 158.8 199.5 L160.5 200 C161 198 162.5 197.3 164 197.4 C166.5 197.8 167.5 200 167.6 203 L169 204.5 C170 203.5 172 203.8 173 206 L173.6 210 L173.6 228 C172.5 230 171 231 169.5 231 C168.5 234 167 235.5 164.5 235.5 C163.5 238 161.5 239.5 159 239 C157.5 241 155 241.5 152.5 240.5 C150.5 242 147.5 242 145.5 240.5 C143 241.5 140.5 241 139 239 C136.5 239.5 134.5 238 133.5 235.5 C131 235.5 129 234 128 231.5 C125.5 231.5 123.5 230 122.8 228 Z"/>
<path class="t" d="M125.5 222 V230.5 M129.5 224 V232 M132.5 226 V235 M136.5 227.5 V237.5 M139.5 228 V238.5 M143.5 229 V240 M146.5 229.5 V240.5 M151 229.5 V240.5 M154 229 V240 M158 228 V238.5 M161.5 227 V236 M165 225.5 V234.5 M168.5 224 V231 M171.5 222 V229"/>
<ellipse cx="148.9" cy="212" rx="13.2" ry="7" fill="none" stroke="#000" stroke-width="3"/>
</g>
<!-- PART 15: nut -->
<g>
<ellipse cx="194.4" cy="288.2" rx="8.8" ry="8" fill="#000"/>
<path d="M189.5 288 L198.5 288 L198 289.8 L195.5 290.2 L195.8 292.6 L197.8 293 L197.5 294.3 L191.5 294.3 L191.2 293 L193.2 292.6 L193 290.2 L190 289.8 Z" fill="#fff"/>
</g>

<!-- PART 12: flange -->
<g>
<ellipse cx="152.5" cy="376" rx="80.5" ry="45.5" fill="#fff" stroke="#000" stroke-width="2.6"/>
<ellipse cx="152.5" cy="368.5" rx="80" ry="45.5" fill="#fff" stroke="#000" stroke-width="2.2"/>
<path class="t" d="M76 380 C84 398 114 410 152 410 C190 410 222 398 229 380" style="stroke-width:1.6"/>
<path class="t" d="M86 365 C87 345 113 332 148 332 C183 332 209 345 210 365 C209 384 183 397 148 397 C113 397 87 384 86 365 Z" style="stroke-width:2"/>
<path class="t" d="M92 372 C100 388 122 400 150 401 M212 370 C205 387 185 398 162 400"/>
<path d="M101 348 C106 346 114 346 122 346 L122 381 C112 381 104 375 99.5 367 C97 360 98 352 101 348 Z" fill="#fff" stroke="#000" stroke-width="2.4"/>
<path d="M180 341 C190 342 200 347 205 355 C207 362 205 369 200 374 L180 374 Z" fill="#fff" stroke="#000" stroke-width="2.4"/>
<path d="M116 341 L116 347 M121 340 C121 337 123 336 126 336" class="t"/>
<path class="w" d="M122.5 346 C122.5 338 134 333 150.5 333 C167 333 178.5 338 178.5 346 L178.5 362 C178.5 370 166 375 150.5 375 C135 375 122.5 370 122.5 362 Z" style="stroke-width:2"/>
<ellipse cx="151" cy="347.5" rx="20.5" ry="10" fill="none" stroke="#000" stroke-width="2.4"/>
<path class="w" d="M117.6 369.5 L124.5 364.6 L137.75 368 L137.75 378 L131 381.5 L117.6 377.5 Z" style="stroke-width:2"/>
<path class="t" d="M117.6 369.5 L131 373 L137.75 368 M131 373 V381.5" style="stroke-width:1.8"/>
<path class="w" d="M164 365 L172 361 L186.75 364 L186.75 372 L178 376.5 L164 372.5 Z" style="stroke-width:2"/>
<path class="t" d="M164 365 L178 368.5 L186.75 364 M178 368.5 V376.5 M181 369 l2 2" style="stroke-width:1.8"/>
<path class="t" d="M108 338 C112 333 118 330 125 329 M170 329 C180 331 190 335 196 341" style="stroke-width:2"/>
<path class="w" d="M186 389 C186 384 190 382 195 382 C201 382 205 385 205 389 C205 394 200 397 195 397 C190 397 186 394 186 389 Z" style="stroke-width:2"/>
<ellipse class="k" cx="195.5" cy="393" rx="4.5" ry="3.5"/>
</g>
<!-- dashed line 15 -->
<path d="M194 272 V283 M194 296 V393" stroke="#000" stroke-width="1.8" stroke-dasharray="8 4" fill="none"/>
<text transform="translate(284.5,283) rotate(-20)" style="font-family:&quot;Liberation Sans&quot;,sans-serif;font-size:18px;fill:#111">Boats.net ©</text>
</svg>
</body></html>
